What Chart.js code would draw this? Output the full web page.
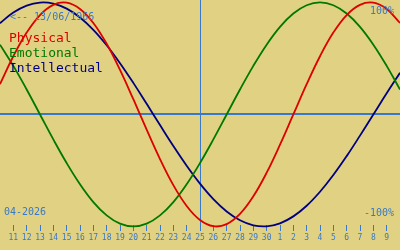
<!DOCTYPE html>
<html>
<head>
<meta charset="utf-8">
<script src="https://cdn.jsdelivr.net/npm/chart.js@4.4.1/dist/chart.umd.min.js"></script>
<style>
  html, body { margin: 0; padding: 0; background: #e0d282; }
  #wrap { position: relative; width: 400px; height: 250px; background: #e0d282; overflow: hidden; }
  #c { position: absolute; left: 0; top: 0; }
  .t { position: absolute; font-family: "DejaVu Sans Mono", monospace; white-space: pre; }
  .s { font-size: 10px; line-height: 10px; color: #3a78c8; }
  .l { font-size: 13px; line-height: 15px; left: 9px; }
</style>
</head>
<body>
<div id="wrap">
  <canvas id="c" width="400" height="250"></canvas>
  <div class="t s" id="birth" style="left:10px; top:12px;"></div>
  <div class="t s" id="top100" style="right:6px; top:6px;"></div>
  <div class="t s" id="bot100" style="right:6px; top:208px;"></div>
  <div class="t s" id="month" style="left:4px; top:207px;"></div>
  <div class="t l" id="leg0" style="top:30px;"></div>
  <div class="t l" id="leg1" style="top:45px;"></div>
  <div class="t l" id="leg2" style="top:60px;"></div>
</div>
<script>
// ---- data ----
const days = ['', '11','12','13','14','15','16','17','18','19','20','21','22','23','24','25','26','27','28','29','30',
              '1','2','3','4','5','6','7','8','9', ''];
const todayLabel = '25';
const seriesNames = ['Physical', 'Emotional', 'Intellectual'];
const physical = [27.0, 52.0, 73.1, 88.8, 97.9, 99.8, 94.2, 81.7, 63.1, 39.8, 13.6,
                  -13.6, -39.8, -63.1, -81.7, -94.2, -99.8, -97.9, -88.8, -73.1, -52.0, -27.0,
                  0, 27.0, 52.0, 73.1, 88.8, 97.9, 99.8, 94.2, 81.7];
const emotional = [62.3, 43.4, 22.3,
                   0, -22.3, -43.4, -62.3, -78.2, -90.1, -97.5, -100, -97.5, -90.1, -78.2, -62.3, -43.4, -22.3, 0,
                   22.3, 43.4, 62.3, 78.2, 90.1, 97.5, 100, 97.5, 90.1, 78.2, 62.3, 43.4, 22.3];
const intellectual = [81.5, 91.0, 97.2, 99.9, 99.0, 94.5, 86.6, 75.6, 61.8, 45.8, 28.2, 9.5,
                      -9.5, -28.2, -45.8, -61.8, -75.6, -86.6, -94.5, -99.0, -99.9, -97.2, -91.0, -81.5, -69.0, -54.1, -37.2, -18.9,
                      0, 18.9, 37.2];
const baselineValue = 0;
const birthText = '<-- 13/06/1966';
const monthText = '04-2026';
const topText = '100%';
const bottomText = '-100%';

// ---- styles ----
const colors = ['#dc0000', '#007800', '#000080'];
const blue = '#3a78c8';
const clear = 'rgba(0,0,0,0)';

document.getElementById('birth').textContent = birthText;
document.getElementById('month').textContent = monthText;
document.getElementById('top100').textContent = topText;
document.getElementById('bot100').textContent = bottomText;
seriesNames.forEach((n, i) => {
  const el = document.getElementById('leg' + i);
  el.textContent = n;
  el.style.color = colors[i];
});

const values = [physical, emotional, intellectual];

new Chart(document.getElementById('c'), {
  type: 'line',
  data: {
    labels: days,
    datasets: values.map((v, i) => ({
      label: seriesNames[i],
      data: v,
      borderColor: colors[i],
      borderWidth: 1.8,
      pointRadius: 0,
      tension: 0.4,
      fill: false,
      clip: 6
    }))
  },
  options: {
    responsive: false,
    animation: false,
    events: [],
    layout: { padding: 0 },
    plugins: { legend: { display: false }, tooltip: { enabled: false } },
    scales: {
      x: {
        type: 'category',
        offset: false,
        border: { display: false },
        grid: {
          display: true,
          drawOnChartArea: true,
          drawTicks: true,
          tickLength: 6,
          lineWidth: 1,
          color: (c) => (days[c.index] === todayLabel ? blue : clear),
          tickColor: (c) => (days[c.index] ? blue : clear),
          tickWidth: 1
        },
        ticks: {
          autoSkip: false,
          maxRotation: 0,
          minRotation: 0,
          padding: 0,
          color: blue,
          font: { family: 'DejaVu Sans Mono', size: 8, lineHeight: 1.7 }
        },
        afterFit: (s) => { s.height = 25; }
      },
      y: {
        min: -98.7,
        max: 102.2,
        border: { display: false },
        afterBuildTicks: (s) => { s.ticks = [{ value: baselineValue }]; },
        grid: {
          drawTicks: false,
          lineWidth: 2,
          color: blue
        },
        ticks: { display: false }
      }
    }
  }
});
</script>
</body>
</html>
